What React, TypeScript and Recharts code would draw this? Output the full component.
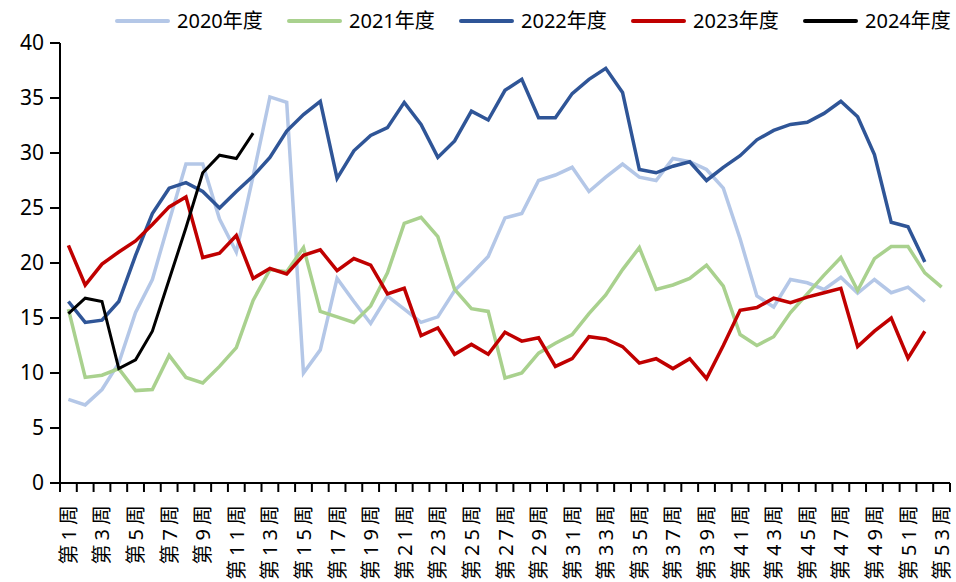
import React from 'react';
import { LineChart, Line, XAxis, YAxis } from 'recharts';

// week labels 第1周 ... 第53周
const weeks: string[] = Array.from({ length: 53 }, (_, i) => `第${i + 1}周`);

const y2020 = [
  7.6, 7.1, 8.5, 10.9, 15.5, 18.5, 23.8, 29.0, 29.0, 24.0,
  21.0, 27.9, 35.1, 34.6, 10.0, 12.1, 18.6, 16.5, 14.5, 17.0,
  15.8, 14.6, 15.1, 17.5, 19.0, 20.6, 24.1, 24.5, 27.5, 28.0,
  28.7, 26.5, 27.8, 29.0, 27.8, 27.5, 29.5, 29.2, 28.5, 26.8,
  22.2, 17.0, 16.0, 18.5, 18.2, 17.6, 18.7, 17.25, 18.5, 17.3,
  17.8, 16.5,
];
const y2021 = [
  15.8, 9.6, 9.8, 10.4, 8.4, 8.5, 11.6, 9.6, 9.1, 10.6,
  12.3, 16.6, 19.4, 19.2, 21.4, 15.6, 15.1, 14.6, 16.1, 19.1,
  23.6, 24.15, 22.4, 17.6, 15.85, 15.6, 9.55, 10.0, 11.8, 12.7,
  13.5, 15.4, 17.1, 19.4, 21.4, 17.6, 18.0, 18.6, 19.8, 17.9,
  13.5, 12.5, 13.3, 15.5, 17.2, 18.9, 20.5, 17.5, 20.4, 21.5,
  21.5, 19.1, 17.8,
];
const y2022 = [
  16.5, 14.6, 14.8, 16.5, 20.7, 24.5, 26.8, 27.3, 26.5, 25.0,
  26.5, 27.9, 29.6, 32.0, 33.5, 34.7, 27.7, 30.2, 31.6, 32.3,
  34.6, 32.6, 29.6, 31.1, 33.8, 33.0, 35.7, 36.7, 33.2, 33.2,
  35.4, 36.7, 37.7, 35.5, 28.5, 28.2, 28.8, 29.2, 27.5, 28.7,
  29.75, 31.2, 32.05, 32.6, 32.8, 33.6, 34.7, 33.3, 29.85, 23.7,
  23.3, 20.1,
];
const y2023 = [
  21.6, 18.0, 19.9, 21.0, 22.0, 23.5, 25.1, 26.0, 20.5, 20.9,
  22.5, 18.6, 19.5, 19.0, 20.7, 21.2, 19.3, 20.4, 19.8, 17.2,
  17.7, 13.4, 14.1, 11.7, 12.6, 11.7, 13.7, 12.9, 13.2, 10.6,
  11.3, 13.3, 13.1, 12.4, 10.9, 11.3, 10.4, 11.3, 9.5, 12.5,
  15.7, 15.95, 16.8, 16.4, 16.9, 17.3, 17.7, 12.4, 13.8, 15.0,
  11.35, 13.8,
];
const y2024 = [15.4, 16.8, 16.5, 10.4, 11.2, 13.8, 18.5, 23.2, 28.2, 29.8, 29.5, 31.8];

const yTicks = [0, 5, 10, 15, 20, 25, 30, 35, 40];

const series = [
  { key: 'y2020', name: '2020年度', color: '#B4C7E7', width: 3.5 },
  { key: 'y2021', name: '2021年度', color: '#A9D18E', width: 3.5 },
  { key: 'y2022', name: '2022年度', color: '#2F5597', width: 3.5 },
  { key: 'y2023', name: '2023年度', color: '#C00000', width: 3.5 },
  { key: 'y2024', name: '2024年度', color: '#000000', width: 3 },
];

const data = weeks.map((w, i) => ({
  week: w,
  y2020: y2020[i] ?? null,
  y2021: y2021[i] ?? null,
  y2022: y2022[i] ?? null,
  y2023: y2023[i] ?? null,
  y2024: y2024[i] ?? null,
}));

const STEP = 16.79;
const CJK = '"Noto Sans", "Noto Sans CJK SC", sans-serif';

// tick marks sit between categories, labels on every other week
const WeekTick = (props: any) => {
  const { x, y, index, payload } = props;
  const half = STEP / 2;
  return (
    <g>
      <line x1={x - half} y1={y} x2={x - half} y2={y + 9} stroke="#000" strokeWidth={2} />
      {index === weeks.length - 1 && (
        <line x1={x + half} y1={y} x2={x + half} y2={y + 9} stroke="#000" strokeWidth={2} />
      )}
      {index % 2 === 0 && (
        <text
          transform={`translate(${x},${y + 18}) rotate(-90)`}
          textAnchor="end"
          dominantBaseline="central"
          fontSize={20}
          letterSpacing={4}
          fontFamily={CJK}
          fill="#000"
        >
          {payload.value}
        </text>
      )}
    </g>
  );
};

const App = () => {
  return (
    <div style={{ position: 'absolute', left: 0, top: 0, width: 956, height: 582, background: '#fff' }}>
      {series.map((s, i) => (
        <div key={s.key}>
          <div
            style={{
              position: 'absolute',
              left: 115 + 172 * i,
              top: 18.5,
              width: 55,
              height: 4.5,
              borderRadius: 2,
              background: s.color,
            }}
          />
          <div
            style={{
              position: 'absolute',
              left: 177 + 172 * i,
              top: 6,
              fontSize: 20,
              lineHeight: '30px',
              fontFamily: CJK,
              color: '#000',
              whiteSpace: 'nowrap',
            }}
          >
            {s.name}
          </div>
        </div>
      ))}
      <LineChart width={956} height={582} data={data} margin={{ top: 43, right: 6, left: 0, bottom: 0 }}>
        <XAxis
          dataKey="week"
          interval={0}
          height={99}
          padding={{ left: 8.4, right: 8.4 }}
          axisLine={{ stroke: '#000', strokeWidth: 2 }}
          tickLine={false}
          tickSize={0}
          tickMargin={0}
          tick={<WeekTick />}
        />
        <YAxis
          width={60}
          domain={[0, 40]}
          ticks={yTicks}
          interval={0}
          axisLine={{ stroke: '#000', strokeWidth: 2 }}
          tickLine={{ stroke: '#000', strokeWidth: 2 }}
          tickSize={10}
          tickMargin={6}
          tick={{ fill: '#000', fontSize: 21, fontFamily: '"Noto Sans", sans-serif' }}
        />
        {series.map((s) => (
          <Line
            key={s.key}
            dataKey={s.key}
            name={s.name}
            type="linear"
            stroke={s.color}
            strokeWidth={s.width}
            dot={false}
            activeDot={false}
            isAnimationActive={false}
          />
        ))}
      </LineChart>
    </div>
  );
};

export default App;
